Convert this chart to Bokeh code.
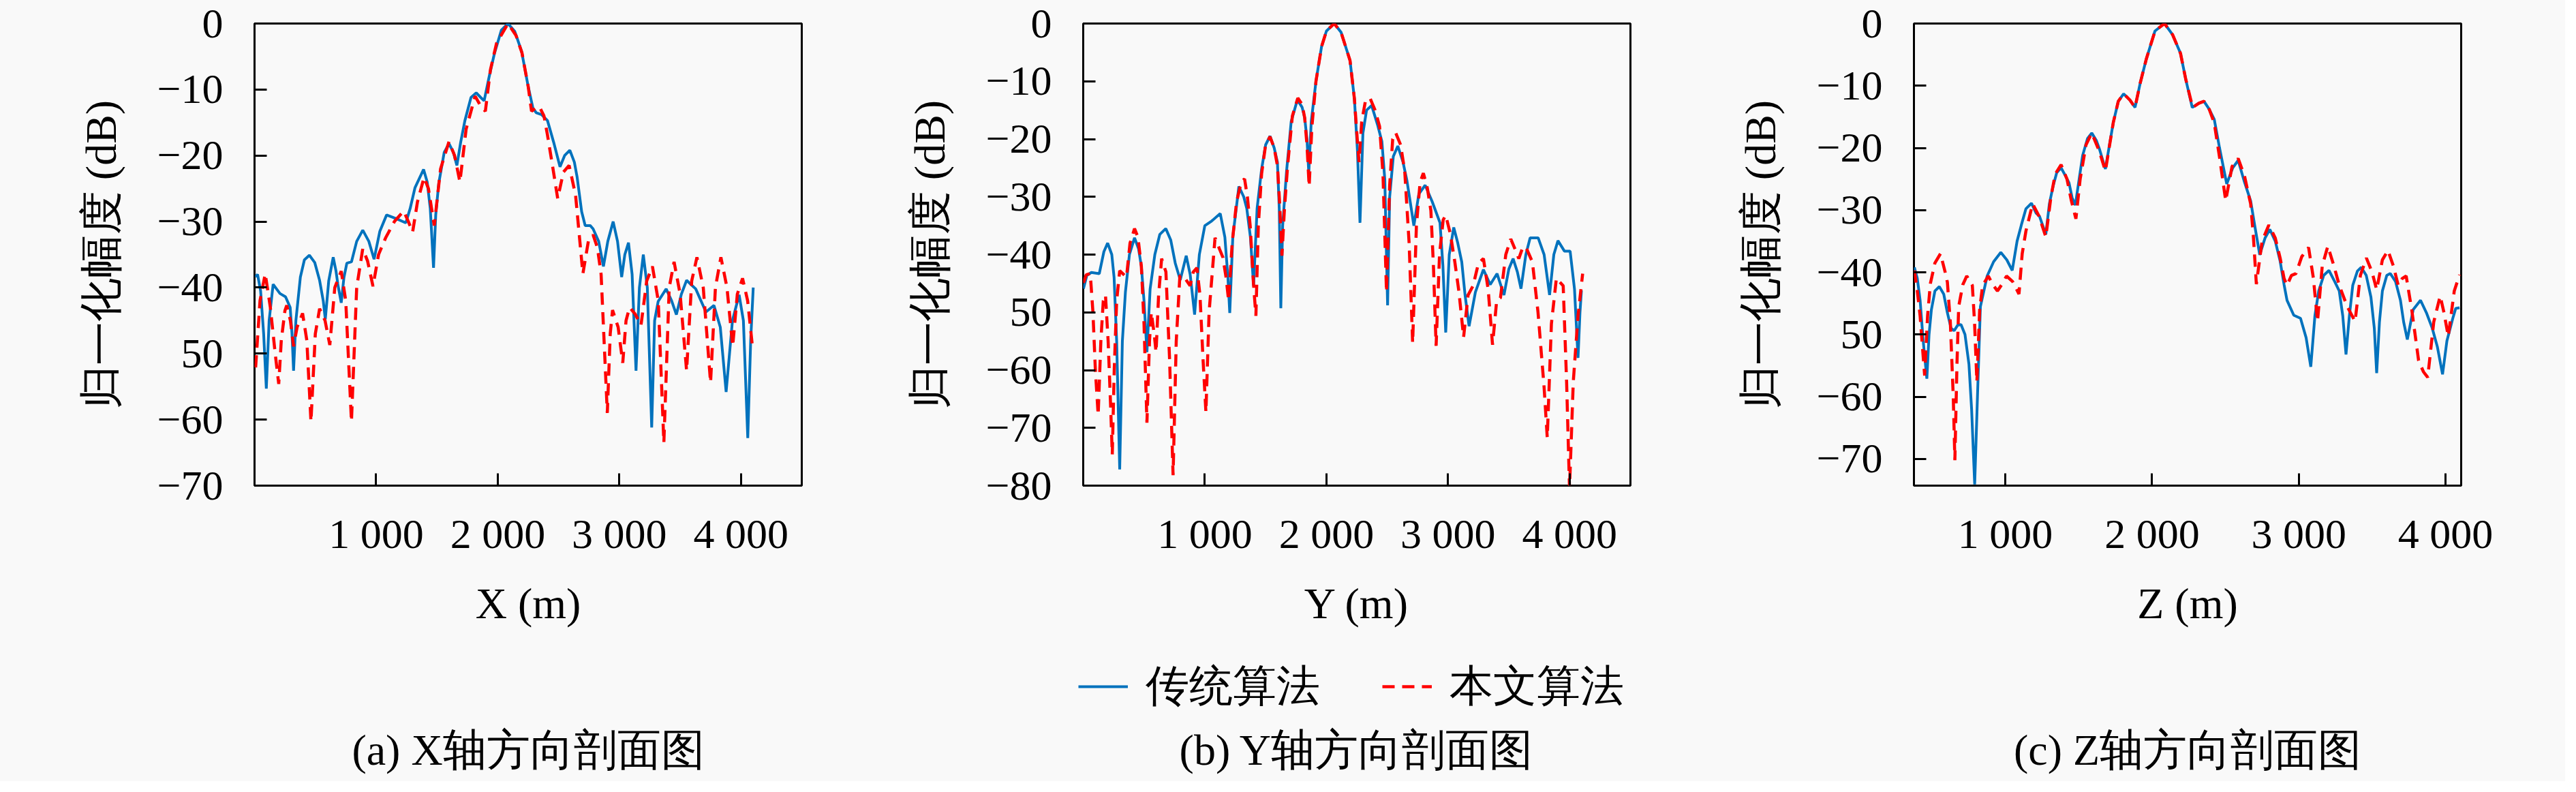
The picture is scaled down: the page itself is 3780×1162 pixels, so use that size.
from bokeh.plotting import figure
from bokeh.layouts import row, column
from bokeh.models import Range1d, FixedTicker, Legend, LegendItem, Label
from bokeh.embed import file_html
from bokeh.resources import INLINE

# (a) X profile
a_trad_m = [9, 25, 50, 75, 97, 120, 153, 209, 255, 293, 308, 321, 340, 377, 410, 451, 495, 535, 565, 582,
            610, 647, 670, 685, 713, 735, 759, 797, 840, 890, 940, 983, 1030, 1086, 1170, 1244, 1280, 1319,
            1390, 1420, 1445, 1472, 1490, 1515, 1560, 1599, 1635, 1664, 1695, 1730, 1780, 1823, 1860, 1888,
            1930, 1972, 2030, 2084, 2140, 2196, 2250, 2289, 2316, 2360, 2409, 2460, 2512, 2550, 2593, 2630,
            2653, 2690, 2719, 2760, 2784, 2830, 2869, 2905, 2949, 2985, 3019, 3045, 3075, 3105, 3137, 3165,
            3197, 3230, 3266, 3290, 3319, 3385, 3430, 3469, 3510, 3553, 3628, 3712, 3778, 3830, 3878, 3930,
            3985, 4020, 4056, 4080, 4101]
a_trad_db = [-38.4, -38.0, -40.5, -47, -55.3, -45, -39.5, -40.9, -41.4, -43, -47, -52.6, -45, -38.4, -35.8,
             -35.1, -36.2, -38.9, -42, -44.8, -39, -35.4, -37.5, -39.5, -42.3, -38.5, -36.3, -36.1, -33,
             -31.3, -33, -35.7, -31.5, -29, -29.6, -30.2, -28, -24.9, -22.1, -24, -28, -37, -29, -24.2,
             -19.5, -18.2, -19.5, -21.5, -18, -14.7, -11.2, -10.5, -11.2, -11.7, -8, -4.6, -1, 0, -1.2,
             -4.2, -9.5, -12.8, -13.5, -13.8, -14.7, -18, -21.7, -20, -19.2, -21, -23.3, -28.5, -30.6,
             -30.6, -31.1, -33, -36.8, -33, -30, -33, -38.4, -35, -33.2, -38, -52.6, -40, -35, -40, -61.2,
             -45, -42.1, -40.2, -42, -44.1, -41, -38.9, -40.2, -43.7, -42.7, -46, -55.8, -45, -41.1, -45,
             -62.8, -48, -40]
a_ours_m = [9, 45, 88, 130, 170, 199, 220, 250, 265, 295, 321, 350, 395, 430, 464, 500, 535, 580, 619, 660,
            713, 750, 797, 840, 890, 930, 974, 1020, 1077, 1150, 1226, 1265, 1300, 1340, 1394, 1430, 1478,
            1530, 1599, 1645, 1689, 1740, 1814, 1860, 1898, 1940, 1990, 2084, 2150, 2200, 2250, 2278, 2310,
            2343, 2380, 2409, 2450, 2493, 2540, 2587, 2640, 2700, 2745, 2784, 2820, 2850, 2901, 2925, 2944,
            2990, 3028, 3055, 3084, 3130, 3178, 3225, 3272, 3320, 3366, 3410, 3450, 3500, 3553, 3595, 3638,
            3690, 3750, 3790, 3835, 3885, 3932, 3970, 4013, 4055, 4097]
a_ours_db = [-52.1, -42, -37.9, -43, -50, -54.6, -48, -43.5, -42.7, -45, -48.9, -46, -43.9, -48, -60.3, -47,
             -43.2, -45, -48.7, -40, -37.5, -42, -60.3, -40, -34.1, -36, -39.8, -35, -32.5, -30, -28.4, -30,
             -31.6, -27, -23.3, -25, -30.6, -22, -17.9, -20, -24, -16, -11, -12.5, -13.3, -7, -3, 0, -1.8,
             -4.5, -9.5, -13.3, -12.8, -12.6, -14, -16.9, -21.5, -26.5, -22.5, -21.5, -26, -37.9, -33, -32,
             -34, -38, -59, -47, -43.4, -46, -51.4, -45, -43, -44, -45.7, -39, -36.8, -42, -63.5, -40,
             -36.1, -41, -52.6, -39, -35.4, -40, -54.4, -40, -35.4, -40, -48.9, -41, -38.6, -42, -49.4]

# (b) Y profile
b_trad_m = [2, 30, 67, 132, 170, 201, 235, 254, 275, 300, 322, 347, 380, 422, 455, 478, 500, 524, 550, 589,
            630, 679, 720, 757, 798, 847, 880, 916, 955, 1000, 1056, 1127, 1165, 1190, 1205, 1230, 1280,
            1320, 1345, 1375, 1401, 1430, 1467, 1500, 1536, 1570, 1597, 1612, 1625, 1640, 1672, 1710, 1761,
            1800, 1821, 1840, 1855, 1875, 1914, 1960, 2000, 2064, 2120, 2194, 2230, 2255, 2276, 2300, 2330,
            2372, 2420, 2456, 2480, 2503, 2520, 2550, 2587, 2630, 2662, 2690, 2719, 2760, 2812, 2869, 2934,
            2958, 2981, 3010, 3047, 3080, 3113, 3140, 3173, 3225, 3291, 3347, 3403, 3460, 3500, 3535, 3570,
            3600, 3640, 3675, 3741, 3790, 3835, 3870, 3904, 3957, 4004, 4040, 4069, 4085, 4097]
b_trad_db = [-45.9, -43.6, -43.1, -43.3, -39.5, -38, -40, -44, -55, -77.2, -55, -46.5, -40, -37.1, -39, -42,
             -48, -56.9, -46, -40, -36.5, -35.5, -37.5, -41.5, -44.4, -40.2, -43.5, -50.4, -40, -35, -34.2,
             -32.9, -37, -44, -50.1, -37, -28.2, -30, -32, -37, -45.4, -32, -25.2, -21, -19.5, -21.5, -24,
             -32, -49.3, -35, -25.6, -17, -13.2, -14.5, -16.3, -20, -25.9, -17, -10, -4, -1.3, 0, -1.5,
             -6.4, -13, -22, -34.5, -19, -15, -14.2, -17.5, -20.4, -27, -48.8, -30, -23, -21.2, -24, -27.2,
             -31, -35, -29.5, -28, -30.8, -34.5, -42, -53.5, -40, -35.3, -38, -41.3, -47, -52.4, -46.5,
             -42.6, -45.2, -43.3, -47, -42.5, -40.7, -43, -45.9, -40, -37.1, -37.1, -40, -47, -40, -37.6,
             -39.4, -39.4, -46, -57.9, -50, -46.2]
b_ours_m = [2, 25, 58, 80, 100, 123, 145, 165, 183, 205, 225, 239, 255, 275, 300, 356, 385, 422, 450, 478,
            500, 524, 545, 560, 585, 599, 620, 645, 680, 710, 739, 765, 795, 840, 879, 905, 935, 960, 985,
            1009, 1035, 1084, 1120, 1149, 1175, 1196, 1225, 1261, 1300, 1327, 1350, 1373, 1400, 1420, 1440,
            1467, 1500, 1536, 1570, 1597, 1615, 1634, 1655, 1681, 1720, 1765, 1800, 1821, 1840, 1858, 1880,
            1914, 1960, 2000, 2064, 2120, 2194, 2230, 2250, 2268, 2290, 2320, 2358, 2400, 2437, 2465, 2494,
            2520, 2545, 2569, 2610, 2644, 2680, 2709, 2740, 2770, 2797, 2830, 2859, 2880, 2902, 2930, 2960,
            2981, 3020, 3056, 3090, 3128, 3165, 3206, 3250, 3291, 3330, 3366, 3400, 3431, 3475, 3516, 3550,
            3582, 3610, 3638, 3694, 3740, 3790, 3816, 3850, 3891, 3947, 3975, 3999, 4030, 4069, 4107]
b_ours_db = [-44.9, -43.5, -43.3, -50, -60, -67.8, -55, -48, -47, -55, -66, -74.6, -60, -48, -42.8, -43.9,
             -38, -35.5, -37, -42, -52, -69.1, -55, -50, -54, -56.9, -47, -40.7, -43, -58, -78.2, -55, -43.6,
             -44.2, -45.4, -43, -42.3, -47, -58, -67.3, -50, -37.1, -39, -40.5, -44, -48, -38, -30.9, -27.4,
             -26.9, -30, -35, -45, -50.6, -35, -26, -21, -19.6, -21.5, -24.6, -31, -40.2, -32, -24.6, -16,
             -12.9, -14, -16.3, -21, -28.2, -18, -10, -4, -1.3, 0, -1.5, -6.4, -13, -19, -24, -17, -13.5,
             -12.9, -15, -17.8, -26, -46.5, -28, -20, -18.9, -21, -25.6, -38, -55.3, -35, -27.5, -25.9,
             -28.5, -32.4, -42, -55.8, -40, -34, -33.2, -36.5, -41.3, -46.5, -54.3, -47, -45.4, -41.5,
             -40.7, -46, -55.6, -48, -47.5, -40, -37.3, -39, -40.7, -39, -38.6, -41.3, -50, -63, -71.7, -52,
             -44.1, -45.4, -62, -80.5, -62, -50.6, -43.3]

# (c) Z profile
c_trad_m = [380, 400, 419, 440, 465, 480, 496, 520, 550, 580, 605, 630, 651, 675, 698, 725, 752, 770, 791,
            810, 830, 876, 920, 969, 1010, 1047, 1080, 1109, 1140, 1178, 1210, 1233, 1276, 1300, 1326, 1350,
            1380, 1410, 1434, 1455, 1477, 1500, 1527, 1560, 1589, 1620, 1643, 1682, 1710, 1736, 1770, 1806,
            1849, 1884, 1920, 1961, 2020, 2085, 2140, 2194, 2230, 2274, 2320, 2354, 2390, 2424, 2460, 2509,
            2550, 2587, 2630, 2672, 2700, 2734, 2770, 2803, 2840, 2873, 2900, 2920, 2966, 3012, 3050, 3082,
            3110, 3136, 3170, 3206, 3245, 3276, 3300, 3322, 3345, 3368, 3400, 3426, 3460, 3492, 3515, 3531,
            3550, 3570, 3600, 3624, 3660, 3693, 3715, 3740, 3780, 3830, 3870, 3910, 3945, 3980, 4010, 4050,
            4070, 4096]
c_trad_db = [-39.2, -41, -44.5, -51, -57.1, -50, -46, -43, -42.3, -43.5, -46.5, -49, -49.4, -48.5, -48.4,
             -50, -54.8, -62, -74.1, -60, -45.5, -40.6, -38.3, -36.8, -38, -39.7, -35, -32.4, -29.8, -28.9,
             -30.5, -31, -33.9, -29, -26.1, -24, -23.2, -24.5, -25.6, -28, -29.2, -25.5, -21.2, -18.5, -17.6,
             -18.8, -20.3, -23.4, -19.5, -15.9, -12.5, -11.3, -12.3, -13.5, -9.5, -5.7, -1.2, 0, -1.8, -4.8,
             -9, -13.5, -12.8, -12.5, -13.8, -15.4, -20, -25.8, -23.2, -22, -25.5, -28.5, -32.5, -37.2,
             -34.5, -33.1, -35, -38.2, -42, -44.5, -46.9, -47.4, -50.5, -55.2, -47, -43, -40.5, -39.7, -41.5,
             -43, -47, -53.2, -47, -42.1, -39.8, -39.2, -40.5, -44, -49, -56.2, -48, -43, -40.5, -40.2,
             -41.5, -44.5, -48, -50.8, -46, -44.5, -46.5, -49, -52, -56.4, -51, -47.4, -45.8, -45.7]
c_ours_m = [380, 400, 419, 435, 450, 470, 489, 520, 558, 590, 605, 625, 645, 656, 670, 682, 710, 737, 760,
            775, 790, 806, 825, 845, 884, 915, 946, 975, 1008, 1050, 1093, 1115, 1140, 1186, 1230, 1276,
            1310, 1340, 1380, 1420, 1450, 1481, 1510, 1550, 1589, 1640, 1682, 1736, 1770, 1806, 1849, 1884,
            1920, 1961, 2020, 2085, 2140, 2194, 2230, 2277, 2320, 2354, 2390, 2424, 2460, 2502, 2545, 2587,
            2630, 2672, 2690, 2711, 2750, 2796, 2840, 2873, 2900, 2920, 2950, 2981, 3020, 3067, 3100, 3128,
            3160, 3198, 3240, 3276, 3330, 3384, 3420, 3461, 3500, 3531, 3570, 3608, 3645, 3678, 3705, 3732,
            3770, 3817, 3850, 3879, 3920, 3964, 3990, 4019, 4060, 4096]
c_ours_db = [-39.7, -43, -47, -52, -56.6, -47, -41.8, -38.5, -37, -40, -41.6, -48, -60, -70.2, -55, -45.5,
             -42, -40.6, -41.5, -42.1, -48, -57.6, -46, -42.1, -40.6, -42, -43, -42, -40.6, -41.5, -43.5,
             -37, -33.4, -29, -31, -34.3, -28, -24.2, -22.7, -25, -28.5, -31.4, -25, -19.5, -17.6, -20.5,
             -23.7, -15.9, -12.5, -11.3, -12.3, -13.5, -9.5, -5.7, -1.2, 0, -1.8, -4.8, -9, -13.5, -12.8,
             -12.5, -13.8, -16, -21.5, -28.5, -23, -21.7, -24.5, -29, -34, -41.9, -35, -32.4, -34.5, -37.7,
             -41, -42.1, -40.5, -40.2, -37.5, -36, -41, -47.9, -39, -35.8, -39, -42.1, -45.5, -47.9, -40.5,
             -37.7, -40, -42.8, -38, -36.5, -39, -42.1, -41, -40.6, -46, -54.2, -56, -56.9, -48, -43.8,
             -46.5, -50.3, -43, -40.4]

y_ticks_a = [0, -10, -20, -30, -40, -50, -60, -70]
y_ticks_b = [0, -10, -20, -30, -40, -50, -60, -70, -80]
y_ticks_c = [0, -10, -20, -30, -40, -50, -60, -70]
x_ticks = [1000, 2000, 3000, 4000]
x_tick_labels = {1000: "1 000", 2000: "2 000", 3000: "3 000", 4000: "4 000"}
# the source figure prints the -50 tick without its minus sign
y_tick_labels = {0: "0", -10: "\u221210", -20: "\u221220", -30: "\u221230", -40: "\u221240",
                 -50: "50", -60: "\u221260", -70: "\u221270", -80: "\u221280"}

series_names = ["传统算法", "本文算法"]
captions = ["(a) X轴方向剖面图", "(b) Y轴方向剖面图", "(c) Z轴方向剖面图"]
axis_names = ["X (m)", "Y (m)", "Z (m)"]

BG = "#f9f9f9"
BLUE = "#0072bd"
RED = "#ff0000"
FONT = "Liberation Serif"
FRAME_W, FRAME_H = 803, 678
TOP = 34
FIG_W, FIG_H = 1217, 940
PAGE_W, PAGE_H = 3764, 1146
BLUE_STYLE = dict(line_color=BLUE, line_width=4)
RED_STYLE = dict(line_color=RED, line_width=4.5, line_dash="18 11")


def make_panel(xr, yr, yticks, xlab, border_left, trad, ours, width=FIG_W):
    p = figure(width=width, height=FIG_H, x_range=Range1d(*xr), y_range=Range1d(*yr),
               output_backend="svg", toolbar_location=None,
               min_border_left=border_left, min_border_right=width - border_left - FRAME_W,
               min_border_top=TOP, min_border_bottom=FIG_H - TOP - FRAME_H)
    p.background_fill_color = BG
    p.border_fill_color = BG
    p.grid.visible = False
    p.outline_line_color = "black"
    p.outline_line_width = 3
    p.outline_line_alpha = 1

    p.line(trad[0], trad[1], **BLUE_STYLE)
    p.line(ours[0], ours[1], **RED_STYLE)

    for ax in (p.xaxis[0], p.yaxis[0]):
        ax.axis_line_color = None
        ax.major_tick_in = 18
        ax.major_tick_out = 0
        ax.major_tick_line_width = 3
        ax.minor_tick_line_color = None
        ax.major_label_text_font = FONT
        ax.major_label_text_font_size = "62px"
        ax.major_label_text_color = "black"
        ax.axis_label_text_font = FONT
        ax.axis_label_text_font_size = "64px"
        ax.axis_label_text_font_style = "normal"
        ax.axis_label_text_color = "black"

    p.xaxis.ticker = FixedTicker(ticks=x_ticks)
    p.xaxis.major_label_overrides = x_tick_labels
    p.xaxis.axis_label = xlab
    p.xaxis.major_label_standoff = 36
    p.xaxis.axis_label_standoff = 30

    p.yaxis.ticker = FixedTicker(ticks=yticks)
    p.yaxis.major_label_overrides = {k: v for k, v in y_tick_labels.items() if k in yticks}
    p.yaxis.axis_label = "归一化幅度 (dB)"
    p.yaxis.major_label_standoff = 46
    p.yaxis.axis_label_standoff = 44
    return p


pa = make_panel((0, 4500), (-70, 0), y_ticks_a, axis_names[0], 373,
                (a_trad_m, a_trad_db), (a_ours_m, a_ours_db))
pb = make_panel((0, 4500), (-80, 0), y_ticks_b, axis_names[1], 372,
                (b_trad_m, b_trad_db), (b_ours_m, b_ours_db))
pc = make_panel((377, 4107), (-74.3, 0), y_ticks_c, axis_names[2], 374,
                (c_trad_m, c_trad_db), (c_ours_m, c_ours_db), width=PAGE_W - 2 * FIG_W)

# strip below the panels: shared legend and sub-captions (ranges in pixels)
bh = PAGE_H - FIG_H
pf = figure(width=PAGE_W, height=bh, x_range=Range1d(0, PAGE_W), y_range=Range1d(0, bh),
            output_backend="svg", toolbar_location=None, min_border=0,
            x_axis_location=None, y_axis_location=None)
pf.background_fill_color = BG
pf.border_fill_color = BG
pf.outline_line_color = None
pf.grid.visible = False

# legend proxies: a single NaN point, so nothing is drawn in the strip itself
nan = float("nan")
lg1 = pf.line([nan], [nan], **BLUE_STYLE)
lg2 = pf.line([nan], [nan], **RED_STYLE)
legend = Legend(items=[LegendItem(label=series_names[0], renderers=[lg1]),
                       LegendItem(label=series_names[1], renderers=[lg2])],
                orientation="horizontal", location=(1582, 96), padding=0, margin=0,
                spacing=91, label_standoff=26, glyph_width=73, glyph_height=70, label_height=70,
                label_text_font=FONT, label_text_font_size="64px", label_text_color="black",
                border_line_color=None, background_fill_alpha=0)
pf.add_layout(legend, "center")

panel_centres = [373 + FRAME_W / 2, FIG_W + 372 + FRAME_W / 2, 2 * FIG_W + 374 + FRAME_W / 2]
for cx, cap in zip(panel_centres, captions):
    pf.add_layout(Label(x=cx, y=46, text=cap, text_align="center", text_baseline="middle",
                        text_font=FONT, text_font_size="64px", text_color="black"))

layout = column(row(pa, pb, pc, spacing=0), pf, spacing=0)
layout.styles = {"background-color": BG}

open("out.html", "w").write(file_html(layout, INLINE))
